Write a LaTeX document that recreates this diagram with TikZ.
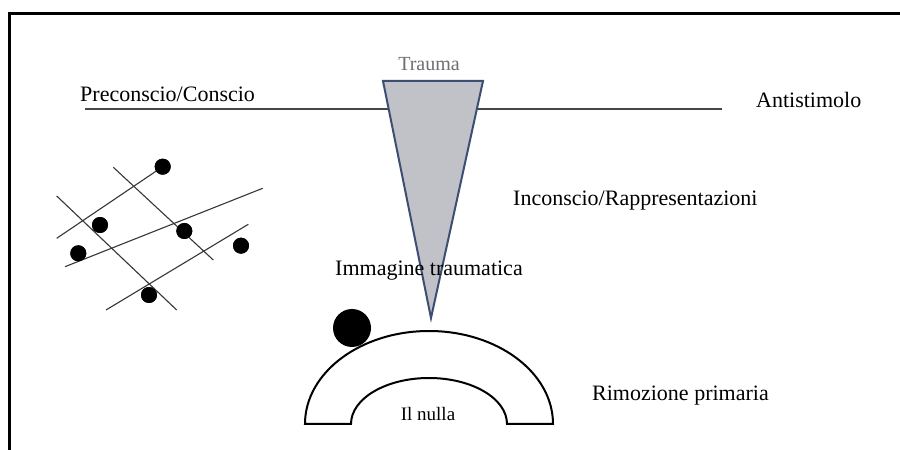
\documentclass[tikz,border=0pt]{standalone}
\usepackage{fontspec}
\setmainfont{Liberation Serif}
\begin{document}
\begin{tikzpicture}[x=1pt,y=1pt,
  lbl/.style={inner sep=0pt, anchor=west, font=\fontsize{22}{26}\selectfont},
  dot/.style={circle, fill=black, inner sep=0pt, minimum size=16pt},
  net/.style={draw={rgb,255:red,55;green,55;blue,55}, line width=1.1pt},
  frame/.style={line width=3pt, draw=black},
  tri/.style={draw={rgb,255:red,60;green,78;blue,115}, line width=2pt, fill={rgb,255:red,192;green,194;blue,200}, line join=miter},
  archs/.style={draw=black, line width=2pt, fill=white}
]
\useasboundingbox[fill=white] (0,0) rectangle (900,450);
% frame
\draw[frame] (9,0) -- (9,436) -- (900,436);
% horizontal line
\coordinate (hl) at (85,341);
\coordinate (hr) at (722,341);
\draw[draw={rgb,255:red,70;green,70;blue,70}, line width=1.2pt] (hl) -- (hr);
% triangle
\coordinate (ta) at (383,369);
\coordinate (tb) at (483,369);
\coordinate (tc) at (431,132);
\draw[tri] (ta) -- (tb) -- (tc) -- cycle;
\node[inner sep=0pt, text={rgb,255:red,110;green,110;blue,115}, font=\fontsize{20}{24}\selectfont] (trauma) at (429,386) {Trauma};
% labels
\node[lbl] (pre) at (80,356) {Preconscio/Conscio};
\node[lbl] (anti) at (756,350) {Antistimolo};
\node[lbl] (inc) at (513,249) {Inconscio/Rappresentazioni};
\node[lbl] (imm) at (335,179) {Immagine traumatica};
\node[lbl] (rim) at (592,54) {Rimozione primaria};
% network
\node[dot] (d1) at (162.7,283.3) {};
\node[dot] (d2) at (100,225) {};
\node[dot] (d3) at (78.3,196.7) {};
\node[dot] (d4) at (184.3,219) {};
\node[dot] (d5) at (241,204.3) {};
\node[dot] (d6) at (149,155) {};
\coordinate (l1a) at (56.7,211.7);
\coordinate (l2a) at (113.3,282.7);
\coordinate (l2b) at (213.3,190);
\coordinate (l3a) at (56.7,254);
\coordinate (l3b) at (176.7,140);
\coordinate (l4a) at (65,183.3);
\coordinate (l4b) at (262.7,261.7);
\coordinate (l5a) at (106,140);
\coordinate (l5b) at (248.3,225.7);
\draw[net] (l1a) -- (d1.center);
\draw[net] (l2a) -- (l2b);
\draw[net] (l3a) -- (l3b);
\draw[net] (l4a) -- (l4b);
\draw[net] (l5a) -- (l5b);
% redraw dots on top
\foreach \d in {d1,d2,d3,d4,d5,d6} \fill[black] (\d) circle (8pt);
% arch
\draw[archs] (305,26) arc[start angle=180, end angle=0, x radius=124, y radius=93] -- (507,26) arc[start angle=0, end angle=180, x radius=78, y radius=46] -- cycle;
\node[inner sep=0pt, font=\fontsize{19}{23}\selectfont] (nulla) at (428,36) {Il nulla};
% big dot
\node[circle, fill=black, inner sep=0pt, minimum size=38pt] (big) at (352,122) {};
\end{tikzpicture}
\end{document}
